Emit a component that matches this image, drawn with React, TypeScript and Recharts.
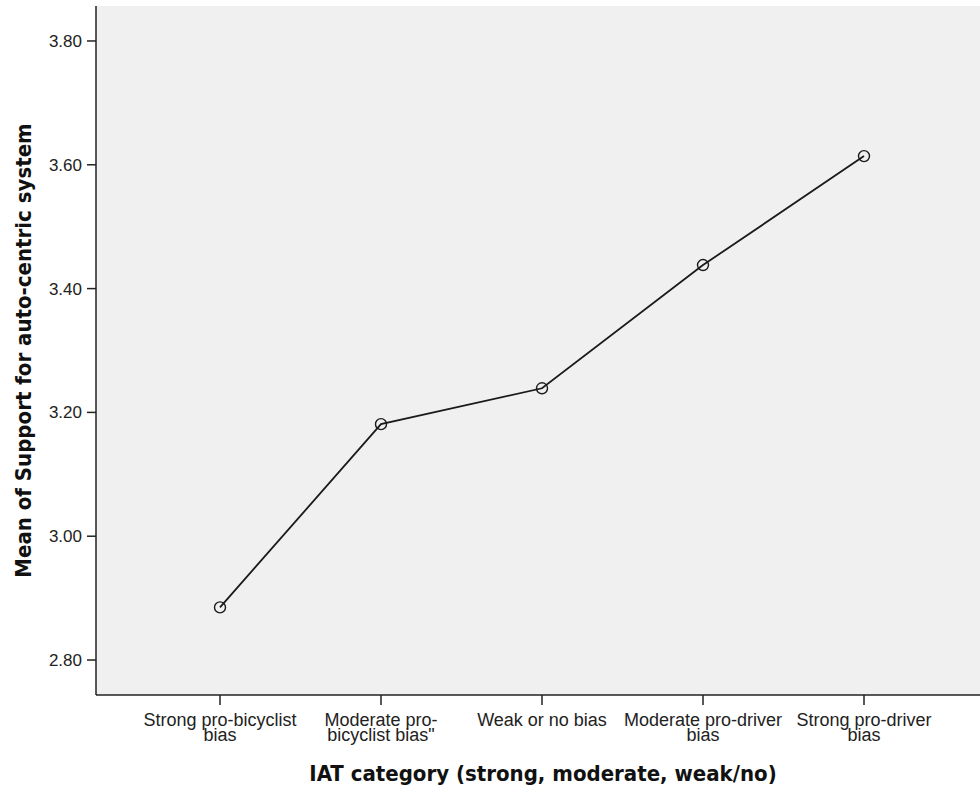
import {
  CartesianGrid,
  Line,
  LineChart,
  XAxis,
  YAxis
} from "recharts";

// IAT category -> mean support for auto-centric system
const categories = [
  "Strong pro-bicyclist\nbias",
  "Moderate pro-\nbicyclist bias\"",
  "Weak or no bias",
  "Moderate pro-driver\nbias",
  "Strong pro-driver\nbias"
];
const meanSupport = [2.885, 3.181, 3.239, 3.438, 3.614];
const yTicks = [2.8, 3.0, 3.2, 3.4, 3.6, 3.8];
const yDomain = [2.7435, 3.8565];

const xTitle = "IAT category (strong, moderate, weak/no)";
const yTitle = "Mean of Support for auto-centric system";

const data = categories.map((category, i) => ({
  category,
  mean: meanSupport[i]
}));

const tickFont = "'Liberation Sans', Arial, sans-serif";
const titleFont = "'DejaVu Sans Condensed', 'DejaVu Sans', sans-serif";

function CategoryTick(props: any) {
  const { x, y, payload } = props;
  const lines = String(payload.value).split("\n");
  return (
    <text
      x={x}
      y={y}
      textAnchor="middle"
      fontFamily={tickFont}
      fontSize={18}
      fill="#222"
    >
      {lines.map((line, i) => (
        <tspan key={i} x={x} y={y + 19 + i * 15}>
          {line}
        </tspan>
      ))}
    </text>
  );
}

export default function App() {
  return (
    <div
      style={{
        position: "absolute",
        left: 0,
        top: 0,
        width: 980,
        height: 792,
        background: "#fff"
      }}
    >
      <LineChart
        width={980}
        height={792}
        data={data}
        margin={{ top: 6, right: 0, bottom: 0, left: 0 }}
      >
        <CartesianGrid horizontal={false} vertical={false} fill="#f0f0f0" />
        <XAxis
          xAxisId="top"
          orientation="top"
          dataKey="category"
          height={0}
          tick={false}
          tickLine={false}
          axisLine={{ stroke: "#8a8a8a", strokeWidth: 2 }}
        />
        <XAxis
          dataKey="category"
          height={97}
          padding={{ left: 124, right: 116 }}
          tickSize={10}
          tickLine={{ stroke: "#222", strokeWidth: 1.5 }}
          axisLine={{ stroke: "#222", strokeWidth: 1.5 }}
          tick={<CategoryTick />}
          interval={0}
          label={{
            content: (p: any) => {
              const vb = p.viewBox;
              return (
                <text
                  x={vb.x + vb.width / 2 + 5}
                  y={781}
                  textAnchor="middle"
                  fontFamily={titleFont}
                  fontWeight="bold"
                  fontSize={22}
                  fill="#111"
                >
                  {xTitle}
                </text>
              );
            }
          }}
        />
        <YAxis
          width={96}
          type="number"
          domain={yDomain}
          ticks={yTicks}
          allowDataOverflow
          tickFormatter={(v: number) => v.toFixed(2)}
          tickSize={9}
          tickMargin={5}
          tick={{ fill: "#222", fontSize: 17, fontFamily: tickFont }}
          tickLine={{ stroke: "#222", strokeWidth: 1.5 }}
          axisLine={{ stroke: "#222", strokeWidth: 1.5 }}
          label={{
            content: (p: any) => {
              const vb = p.viewBox;
              const cy = vb.y + vb.height / 2;
              return (
                <text
                  transform={`translate(31, ${cy}) rotate(-90)`}
                  textAnchor="middle"
                  fontFamily={titleFont}
                  fontWeight="bold"
                  fontSize={22}
                  fill="#111"
                >
                  {yTitle}
                </text>
              );
            }
          }}
        />
        <Line
          type="linear"
          dataKey="mean"
          stroke="#1a1a1a"
          strokeWidth={1.8}
          dot={{ r: 5.5, stroke: "#1a1a1a", strokeWidth: 1.4, fill: "none" }}
          activeDot={false}
          isAnimationActive={false}
        />
      </LineChart>
    </div>
  );
}
